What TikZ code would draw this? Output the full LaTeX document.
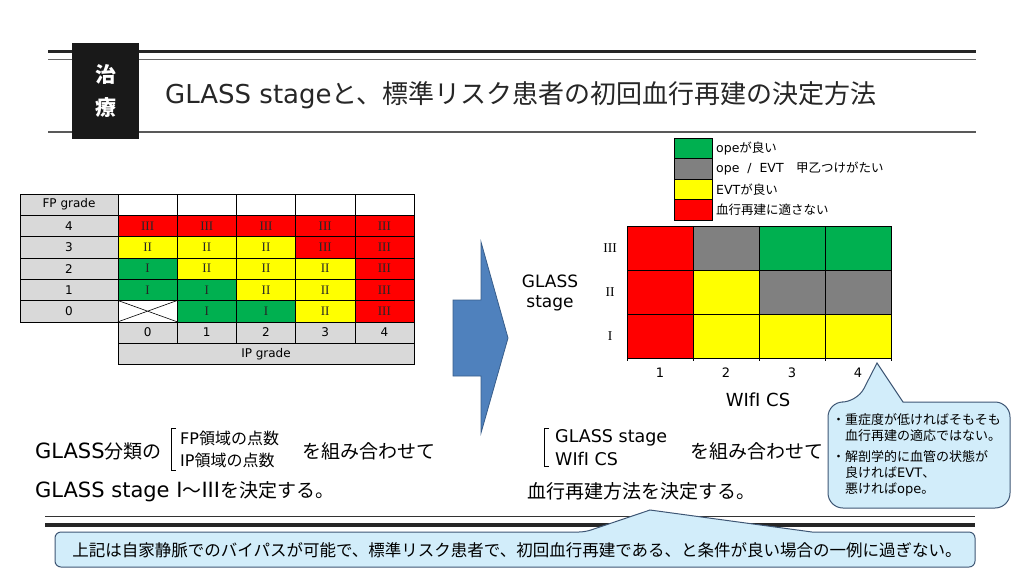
\documentclass[tikz,border=0pt]{standalone}
\usepackage{fontspec}
\setmainfont{Noto Sans CJK JP}
\newfontfamily\latfont{DejaVu Sans}
\newfontfamily\romanfont{Liberation Serif}
\definecolor{glred}{RGB}{255, 0, 0}
\definecolor{glyellow}{RGB}{255, 255, 0}
\definecolor{glgreen}{RGB}{0, 176, 80}
\definecolor{glgray}{RGB}{128, 128, 128}
\definecolor{labgray}{RGB}{217, 217, 217}
\definecolor{arrowblue}{RGB}{79, 129, 189}
\definecolor{arrowline}{RGB}{56, 93, 138}
\definecolor{notefill}{RGB}{210, 237, 250}
\definecolor{noteline}{RGB}{62, 86, 116}
\usepackage{tikz}
\usetikzlibrary{positioning, calc}
\newcommand{\setfs}[1]{\fontsize{#1}{#1}\selectfont}
\newcommand{\lat}[1]{{\latfont #1}}
\newcommand{\biglat}[1]{{\latfont\fontsize{21}{21}\selectfont #1}}

\begin{document}
\begin{tikzpicture}[x=1pt, y=-1pt,
  cell/.style={draw, line width=0.6pt, minimum width=59.2pt, minimum height=21.3pt, inner sep=0pt, outer sep=0pt, font=\romanfont\setfs{13}},
  labcell/.style={cell, fill=labgray, minimum width=98pt, font=\latfont\setfs{12}},
  wcell/.style={draw, line width=0.6pt, minimum width=66pt, minimum height=44pt, inner sep=0pt, outer sep=0pt},
  legbox/.style={draw, line width=0.6pt, minimum width=38pt, minimum height=20.5pt, inner sep=0pt, outer sep=0pt},
  note/.style={draw=noteline, line width=1pt, fill=notefill}]
  \useasboundingbox (0,0) rectangle (1024,576);

  % header
  \draw[line width=3pt, black!85] (48,51) -- (976,51);
  \draw[line width=1pt, black!60] (48,59) -- (976,59);
  \draw[line width=1.2pt, black!65] (48,132) -- (976,132);
  \node[fill=black!90, text=white, font=\bfseries\fontsize{21}{33}\selectfont, align=center,
    minimum width=67pt, minimum height=96pt, inner sep=0pt] (tag) at (105.5,91) {治\\療};
  \node[anchor=west, inner sep=0pt, font=\setfs{26}, text=black!85] (title) at (165,95) {\lat{GLASS stage}と、標準リスク患者の初回血行再建の決定方法};

  % GLASS table
  \node[labcell] (fp-head) at (69,204.65) {FP grade};
  \foreach \c in {0,...,4}
    \node[cell, fill=white] (top-\c) at (147.6+59.2*\c,204.65) {};
  \foreach \row [count=\i from 1] in {
    {glred/III, glred/III, glred/III, glred/III, glred/III},
    {glyellow/II, glyellow/II, glyellow/II, glred/III, glred/III},
    {glgreen/I, glyellow/II, glyellow/II, glyellow/II, glred/III},
    {glgreen/I, glgreen/I, glyellow/II, glyellow/II, glred/III},
    {white/{}, glgreen/I, glgreen/I, glyellow/II, glred/III}} {
    \pgfmathtruncatemacro{\fp}{5-\i}
    \node[labcell] (fp-\fp) at (69,194+21.3*\i+10.65) {\fp};
    \foreach \f/\t [count=\c from 0] in \row
      \node[cell, fill=\f, text=black!85] (gs-\fp-\c) at (147.6+59.2*\c,194+21.3*\i+10.65) {\t};
  }
  \draw[line width=0.6pt] (gs-0-0.north west) -- (gs-0-0.south east)
    (gs-0-0.south west) -- (gs-0-0.north east);
  \foreach \c in {0,...,4}
    \node[labcell, minimum width=59.2pt] (ip-\c) at (147.6+59.2*\c,332.45) {\c};
  \node[labcell, minimum width=296pt] (ip-head) at (266,353.75) {IP grade};

  % arrow
  \draw[fill=arrowblue, draw=arrowline, line width=0.8pt] (453,300) -- (481,300) -- (481,242)
    -- (508,338) -- (481,433) -- (481,376) -- (453,376) -- cycle;

  % legend
  \foreach \f/\t [count=\k from 0] in {glgreen/\lat{ope}が良い, glgray/{\lat{ope\ \ /\ \ EVT}　甲乙つけがたい},
    glyellow/\lat{EVT}が良い, glred/血行再建に適さない} {
    \node[legbox, fill=\f] (leg-\k) at (693,148.5+20.5*\k) {};
    \node[right=4pt of leg-\k, inner sep=0pt, font=\setfs{12.5}] (legt-\k) {\t};
  }

  % WIfI x GLASS grid
  \foreach \st/\row [count=\j from 0] in {III/{glred,glgray,glgreen,glgreen},
    II/{glred,glyellow,glgray,glgray}, I/{glred,glyellow,glyellow,glyellow}} {
    \node[font=\romanfont\setfs{13.5}] (st-\st) at (610,248+44*\j) {\st};
    \foreach \f [count=\c from 1] in \row
      \node[wcell, fill=\f] (wc-\st-\c) at (660+66*\c-66,248+44*\j) {};
  }
  \foreach \c in {1,...,4} {
    \draw[line width=0.6pt] (wc-I-\c.south west) -- ++(0,3);
    \node[font=\latfont\setfs{13}] (cs-\c) at (660+66*\c-66,373) {\c};
  }
  \draw[line width=0.6pt] (wc-I-4.south east) -- ++(0,3);
  \node[align=center, font=\latfont\fontsize{17}{20}\selectfont] (axis-gs) at (550,293) {GLASS\\stage};
  \node[font=\latfont\setfs{18}] (axis-cs) at (758,400) {WIfI CS};

  % left text
  \node[anchor=west, inner sep=0pt, font=\setfs{19}] (txt-l1) at (35,451) {\biglat{GLASS}分類の};
  \draw[line width=1pt] (176,428) -- (171,428) -- (171,470) -- (176,470);
  \node[anchor=west, inner sep=0pt, font=\setfs{16}] (txt-fp) at (180,438) {\lat{FP}領域の点数};
  \node[anchor=west, inner sep=0pt, font=\setfs{16}] (txt-ip) at (180,460) {\lat{IP}領域の点数};
  \node[anchor=west, inner sep=0pt, font=\setfs{19}] (txt-l2) at (302,451) {を組み合わせて};
  \node[anchor=west, inner sep=0pt, font=\setfs{19}] (txt-l3) at (35,492) {\biglat{GLASS stage I}〜\biglat{III}を決定する。};

  % right text
  \draw[line width=1pt] (549,428) -- (544,428) -- (544,466) -- (549,466);
  \node[anchor=west, inner sep=0pt, font=\latfont\setfs{17.5}] (txt-gs) at (555,438) {GLASS stage};
  \node[anchor=west, inner sep=0pt, font=\latfont\setfs{17.5}] (txt-cs) at (555,459) {WIfI CS};
  \node[anchor=west, inner sep=0pt, font=\setfs{19}] (txt-r2) at (690,451) {を組み合わせて};
  \node[anchor=west, inner sep=0pt, font=\setfs{19}] (txt-r3) at (527,491) {血行再建方法を決定する。};

  % right note
  \draw[note] (828,455) [rounded corners=15pt] -- (828,402) -- (857,402) [sharp corners] -- (877,363)
    -- (903,402) [rounded corners=15pt] -- (1010,402) -- (1010,508) -- (828,508) -- cycle;
  \node[anchor=west, align=left, inner sep=0pt, font=\fontsize{13}{16}\selectfont] (note-r) at (832,455)
    {・重症度が低ければそもそも\\\hspace*{1em}血行再建の適応ではない。\\[5pt]
     ・解剖学的に血管の状態が\\\hspace*{1em}良ければ\lat{EVT}、\\\hspace*{1em}悪ければ\lat{ope}。};

  % bottom rules and note
  \draw[line width=1pt, black!80] (45,516) -- (975,516);
  \draw[line width=3.5pt, black!85] (45,525) -- (975,525);
  \draw[note] (55,550) [rounded corners=6pt] -- (55,532) -- (585,532) [sharp corners] -- (650,510)
    -- (812,532) [rounded corners=6pt] -- (975,532) -- (975,567) -- (55,567) -- cycle;
  \node[font=\setfs{16.5}] (note-b) at (517,550)
    {上記は自家静脈でのバイパスが可能で、標準リスク患者で、初回血行再建である、と条件が良い場合の一例に過ぎない。};
\end{tikzpicture}
\end{document}
